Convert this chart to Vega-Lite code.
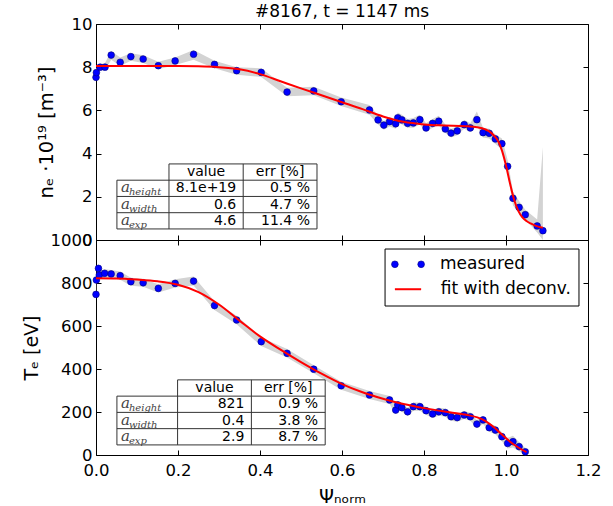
{
  "$schema": "https://vega.github.io/schema/vega-lite/v6.json",
  "padding": {"left": 21, "top": 2, "right": 5, "bottom": 0},
  "spacing": 0,
  "bounds": "flush",
  "config": {
    "font": "DejaVu Sans",
    "view": {"stroke": "black", "strokeWidth": 1},
    "axis": {"labelFont": "DejaVu Sans", "labelFontSize": 16.5, "labelColor": "black", "tickColor": "black", "domain": false, "grid": false, "tickSize": -5, "labelPadding": 9, "labelFlush": false, "labelOverlap": false, "titleFont": "DejaVu Sans", "titleFontSize": 17, "titleFontWeight": "normal", "titleColor": "black"},
    "text": {"font": "DejaVu Sans", "color": "black"}
  },
  "datasets": {
    "ne": [
      {"psi": 0.000, "ne": 7.53, "lo": 7.35, "hi": 7.75},
      {"psi": 0.001, "ne": 7.75, "lo": 7.55, "hi": 7.95},
      {"psi": 0.010, "ne": 8.00, "lo": 7.85, "hi": 8.15},
      {"psi": 0.022, "ne": 8.00, "lo": 7.85, "hi": 8.2},
      {"psi": 0.037, "ne": 8.56, "lo": 8.35, "hi": 8.75},
      {"psi": 0.059, "ne": 8.23, "lo": 8.05, "hi": 8.45},
      {"psi": 0.085, "ne": 8.49, "lo": 8.3, "hi": 8.65},
      {"psi": 0.115, "ne": 8.38, "lo": 8.2, "hi": 8.55},
      {"psi": 0.152, "ne": 8.07, "lo": 7.9, "hi": 8.25},
      {"psi": 0.193, "ne": 8.29, "lo": 8.1, "hi": 8.45},
      {"psi": 0.238, "ne": 8.60, "lo": 8.35, "hi": 8.8},
      {"psi": 0.289, "ne": 8.13, "lo": 7.95, "hi": 8.3},
      {"psi": 0.343, "ne": 7.84, "lo": 7.65, "hi": 8.0},
      {"psi": 0.403, "ne": 7.76, "lo": 7.55, "hi": 7.95},
      {"psi": 0.466, "ne": 6.85, "lo": 6.65, "hi": 7.05},
      {"psi": 0.531, "ne": 6.90, "lo": 6.7, "hi": 7.1},
      {"psi": 0.598, "ne": 6.40, "lo": 6.2, "hi": 6.6},
      {"psi": 0.667, "ne": 6.02, "lo": 5.8, "hi": 6.25},
      {"psi": 0.688, "ne": 5.56, "lo": 5.35, "hi": 5.75},
      {"psi": 0.702, "ne": 5.32, "lo": 5.1, "hi": 5.5},
      {"psi": 0.716, "ne": 5.48, "lo": 5.25, "hi": 5.7},
      {"psi": 0.731, "ne": 5.38, "lo": 5.15, "hi": 5.6},
      {"psi": 0.736, "ne": 5.66, "lo": 5.45, "hi": 5.9},
      {"psi": 0.746, "ne": 5.56, "lo": 5.35, "hi": 5.8},
      {"psi": 0.760, "ne": 5.40, "lo": 5.2, "hi": 5.6},
      {"psi": 0.774, "ne": 5.42, "lo": 5.2, "hi": 5.65},
      {"psi": 0.790, "ne": 5.57, "lo": 5.35, "hi": 5.8},
      {"psi": 0.805, "ne": 5.19, "lo": 5.0, "hi": 5.4},
      {"psi": 0.821, "ne": 5.40, "lo": 5.2, "hi": 5.6},
      {"psi": 0.836, "ne": 5.50, "lo": 5.3, "hi": 5.75},
      {"psi": 0.852, "ne": 5.14, "lo": 4.95, "hi": 5.35},
      {"psi": 0.866, "ne": 4.95, "lo": 4.75, "hi": 5.15},
      {"psi": 0.881, "ne": 5.05, "lo": 4.85, "hi": 5.25},
      {"psi": 0.898, "ne": 5.34, "lo": 5.15, "hi": 5.55},
      {"psi": 0.913, "ne": 5.19, "lo": 5.0, "hi": 5.4},
      {"psi": 0.929, "ne": 5.57, "lo": 5.3, "hi": 5.95},
      {"psi": 0.944, "ne": 4.97, "lo": 4.75, "hi": 5.2},
      {"psi": 0.959, "ne": 4.94, "lo": 4.7, "hi": 5.15},
      {"psi": 0.974, "ne": 4.68, "lo": 4.45, "hi": 4.9},
      {"psi": 0.990, "ne": 4.46, "lo": 4.2, "hi": 4.7},
      {"psi": 1.004, "ne": 3.41, "lo": 3.1, "hi": 3.7},
      {"psi": 1.017, "ne": 1.93, "lo": 1.6, "hi": 2.25},
      {"psi": 1.032, "ne": 1.51, "lo": 1.25, "hi": 1.8},
      {"psi": 1.047, "ne": 1.17, "lo": 0.95, "hi": 1.4},
      {"psi": 1.076, "ne": 0.65, "lo": 0.35, "hi": 0.95},
      {"psi": 1.090, "ne": 0.43, "lo": 0.0, "hi": 4.3}
    ],
    "neFit": [
      {"psi": 0.00, "ne": 8.05}, {"psi": 0.05, "ne": 8.05}, {"psi": 0.10, "ne": 8.05}, {"psi": 0.15, "ne": 8.05},
      {"psi": 0.20, "ne": 8.05}, {"psi": 0.25, "ne": 8.04}, {"psi": 0.30, "ne": 8.00}, {"psi": 0.35, "ne": 7.90},
      {"psi": 0.40, "ne": 7.68}, {"psi": 0.45, "ne": 7.35}, {"psi": 0.50, "ne": 7.02}, {"psi": 0.55, "ne": 6.70},
      {"psi": 0.60, "ne": 6.38}, {"psi": 0.65, "ne": 6.06}, {"psi": 0.70, "ne": 5.72}, {"psi": 0.75, "ne": 5.47},
      {"psi": 0.80, "ne": 5.35}, {"psi": 0.85, "ne": 5.30}, {"psi": 0.90, "ne": 5.27}, {"psi": 0.93, "ne": 5.22},
      {"psi": 0.95, "ne": 5.12}, {"psi": 0.96, "ne": 5.02}, {"psi": 0.97, "ne": 4.85}, {"psi": 0.98, "ne": 4.60},
      {"psi": 0.99, "ne": 4.15}, {"psi": 1.00, "ne": 3.45}, {"psi": 1.01, "ne": 2.60}, {"psi": 1.02, "ne": 1.85},
      {"psi": 1.03, "ne": 1.35}, {"psi": 1.04, "ne": 1.05}, {"psi": 1.05, "ne": 0.88}, {"psi": 1.06, "ne": 0.77},
      {"psi": 1.07, "ne": 0.68}, {"psi": 1.09, "ne": 0.57}
    ],
    "te": [
      {"psi": 0.000, "te": 747, "lo": 725, "hi": 770},
      {"psi": 0.001, "te": 814, "lo": 795, "hi": 835},
      {"psi": 0.006, "te": 868, "lo": 850, "hi": 890},
      {"psi": 0.008, "te": 837, "lo": 818, "hi": 856},
      {"psi": 0.021, "te": 845, "lo": 826, "hi": 864},
      {"psi": 0.037, "te": 842, "lo": 823, "hi": 861},
      {"psi": 0.059, "te": 834, "lo": 815, "hi": 853},
      {"psi": 0.085, "te": 806, "lo": 787, "hi": 825},
      {"psi": 0.115, "te": 801, "lo": 782, "hi": 820},
      {"psi": 0.152, "te": 775, "lo": 756, "hi": 794},
      {"psi": 0.193, "te": 798, "lo": 779, "hi": 817},
      {"psi": 0.238, "te": 809, "lo": 788, "hi": 830},
      {"psi": 0.289, "te": 695, "lo": 675, "hi": 715},
      {"psi": 0.343, "te": 628, "lo": 608, "hi": 648},
      {"psi": 0.403, "te": 527, "lo": 507, "hi": 547},
      {"psi": 0.466, "te": 473, "lo": 453, "hi": 493},
      {"psi": 0.531, "te": 399, "lo": 380, "hi": 418},
      {"psi": 0.598, "te": 322, "lo": 303, "hi": 341},
      {"psi": 0.667, "te": 279, "lo": 260, "hi": 298},
      {"psi": 0.716, "te": 256, "lo": 237, "hi": 275},
      {"psi": 0.731, "te": 209, "lo": 190, "hi": 228},
      {"psi": 0.736, "te": 233, "lo": 214, "hi": 252},
      {"psi": 0.746, "te": 220, "lo": 201, "hi": 239},
      {"psi": 0.760, "te": 201, "lo": 182, "hi": 220},
      {"psi": 0.774, "te": 225, "lo": 206, "hi": 244},
      {"psi": 0.790, "te": 225, "lo": 206, "hi": 244},
      {"psi": 0.805, "te": 206, "lo": 187, "hi": 225},
      {"psi": 0.821, "te": 191, "lo": 172, "hi": 210},
      {"psi": 0.836, "te": 201, "lo": 182, "hi": 220},
      {"psi": 0.852, "te": 197, "lo": 178, "hi": 216},
      {"psi": 0.866, "te": 178, "lo": 159, "hi": 197},
      {"psi": 0.881, "te": 174, "lo": 155, "hi": 193},
      {"psi": 0.898, "te": 186, "lo": 167, "hi": 205},
      {"psi": 0.913, "te": 178, "lo": 159, "hi": 197},
      {"psi": 0.929, "te": 144, "lo": 125, "hi": 163},
      {"psi": 0.944, "te": 163, "lo": 144, "hi": 182},
      {"psi": 0.959, "te": 127, "lo": 108, "hi": 146},
      {"psi": 0.974, "te": 116, "lo": 96, "hi": 136},
      {"psi": 0.990, "te": 85, "lo": 64, "hi": 106},
      {"psi": 1.004, "te": 54, "lo": 30, "hi": 80},
      {"psi": 1.017, "te": 62, "lo": 35, "hi": 90},
      {"psi": 1.032, "te": 39, "lo": 18, "hi": 60},
      {"psi": 1.047, "te": 15, "lo": 0, "hi": 32}
    ],
    "teFit": [
      {"psi": 0.00, "te": 822}, {"psi": 0.05, "te": 821}, {"psi": 0.10, "te": 816}, {"psi": 0.15, "te": 808},
      {"psi": 0.20, "te": 792}, {"psi": 0.25, "te": 758}, {"psi": 0.30, "te": 700}, {"psi": 0.35, "te": 625},
      {"psi": 0.40, "te": 552}, {"psi": 0.45, "te": 490}, {"psi": 0.50, "te": 432}, {"psi": 0.55, "te": 378},
      {"psi": 0.60, "te": 330}, {"psi": 0.65, "te": 292}, {"psi": 0.70, "te": 262}, {"psi": 0.75, "te": 237},
      {"psi": 0.80, "te": 218}, {"psi": 0.85, "te": 202}, {"psi": 0.90, "te": 188}, {"psi": 0.93, "te": 175},
      {"psi": 0.95, "te": 158}, {"psi": 0.97, "te": 130}, {"psi": 0.99, "te": 95}, {"psi": 1.01, "te": 62},
      {"psi": 1.03, "te": 35}, {"psi": 1.05, "te": 13}
    ],
    "neTab": [
      {"row": 1, "sym": "a", "sub": "height", "value": "8.1e+19", "err": "0.5 %"},
      {"row": 2, "sym": "a", "sub": "width", "value": "0.6", "err": "4.7 %"},
      {"row": 3, "sym": "a", "sub": "exp", "value": "4.6", "err": "11.4 %"}
    ],
    "teTab": [
      {"row": 1, "sym": "a", "sub": "height", "value": "821", "err": "0.9 %"},
      {"row": 2, "sym": "a", "sub": "width", "value": "0.4", "err": "3.8 %"},
      {"row": 3, "sym": "a", "sub": "exp", "value": "2.9", "err": "8.7 %"}
    ]
  },
  "vconcat": [
    {
      "width": 492,
      "height": 216,
      "title": {"text": "#8167, t = 1147 ms", "fontSize": 17, "fontWeight": "normal", "font": "DejaVu Sans", "color": "black", "offset": -5, "frame": "group", "anchor": "middle"},
      "layer": [
        {
          "layer": [
            {
              "data": {"name": "ne"},
              "mark": {"type": "area", "color": "#d3d3d3", "opacity": 1},
              "encoding": {
                "x": {"field": "psi", "type": "quantitative", "scale": {"domain": [0, 1.2], "nice": false, "zero": false}, "axis": {"orient": "bottom", "values": [0, 0.2, 0.4, 0.6, 0.8, 1.0, 1.2], "labels": false, "title": null}},
                "y": {"field": "lo", "type": "quantitative", "scale": {"domain": [0, 10], "nice": false, "zero": false}, "axis": {"orient": "left", "values": [0, 2, 4, 6, 8, 10], "title": "nₑ  ·10¹⁹  [m⁻³]", "titleFontSize": 19.5, "titlePadding": 15}},
                "y2": {"field": "hi"}
              }
            },
            {
              "data": {"name": "ne"},
              "mark": {"type": "point", "filled": true, "size": 45, "color": "#0000ff", "stroke": "#00007f", "strokeWidth": 0.6, "opacity": 1},
              "encoding": {
                "x": {"field": "psi", "type": "quantitative", "axis": null},
                "y": {"field": "ne", "type": "quantitative", "axis": null}
              }
            },
            {
              "data": {"name": "neFit"},
              "mark": {"type": "line", "color": "#ff0000", "strokeWidth": 2, "interpolate": "monotone"},
              "encoding": {
                "x": {"field": "psi", "type": "quantitative", "axis": {"orient": "top", "values": [0, 0.2, 0.4, 0.6, 0.8, 1.0, 1.2], "labels": false, "title": null}},
                "y": {"field": "ne", "type": "quantitative", "axis": {"orient": "right", "values": [0, 2, 4, 6, 8, 10], "labels": false, "title": null}}
              }
            }
          ],
          "resolve": {"axis": {"x": "independent", "y": "independent"}}
        },
        {
          "data": {"name": "neTab"},
          "layer": [
            {"mark": {"type": "text", "align": "left", "font": "DejaVu Serif", "fontStyle": "italic", "fontSize": 15, "dx": 4, "dy": -1, "color": "#444"},
             "encoding": {"x": {"datum": 0.051, "type": "quantitative", "axis": null}, "y": {"field": "row", "type": "quantitative", "scale": {"domain": [-9.11, 4.18], "reverse": true, "nice": false, "zero": false}, "axis": null}, "text": {"field": "sym"}}},
            {"mark": {"type": "text", "align": "left", "font": "DejaVu Serif", "fontStyle": "italic", "fontSize": 10, "dx": 12, "dy": 4, "color": "#444"},
             "encoding": {"x": {"datum": 0.051, "type": "quantitative", "axis": null}, "y": {"field": "row", "type": "quantitative", "axis": null}, "text": {"field": "sub"}}},
            {"mark": {"type": "text", "align": "right", "fontSize": 14, "dx": -7},
             "encoding": {"x": {"datum": 0.359, "type": "quantitative", "axis": null}, "y": {"field": "row", "type": "quantitative", "axis": null}, "text": {"field": "value"}}},
            {"mark": {"type": "text", "align": "right", "fontSize": 14, "dx": -7},
             "encoding": {"x": {"datum": 0.539, "type": "quantitative", "axis": null}, "y": {"field": "row", "type": "quantitative", "axis": null}, "text": {"field": "err"}}},
            {"data": {"values": [{}]}, "mark": {"type": "text", "text": "value", "fontSize": 14, "align": "center"},
             "encoding": {"x": {"datum": 0.2685, "type": "quantitative", "axis": null}, "y": {"datum": 0, "type": "quantitative", "axis": null}}},
            {"data": {"values": [{}]}, "mark": {"type": "text", "text": "err [%]", "fontSize": 14, "align": "center"},
             "encoding": {"x": {"datum": 0.449, "type": "quantitative", "axis": null}, "y": {"datum": 0, "type": "quantitative", "axis": null}}},
            {"data": {"values": [{}]}, "mark": {"type": "rule", "color": "#333", "strokeWidth": 1},
             "encoding": {"x": {"datum": 0.178, "type": "quantitative", "axis": null}, "x2": {"datum": 0.539}, "y": {"datum": -0.5, "type": "quantitative", "axis": null}}},
            {"data": {"values": [{}]}, "mark": {"type": "rule", "color": "#333", "strokeWidth": 1},
             "encoding": {"x": {"datum": 0.051, "type": "quantitative", "axis": null}, "x2": {"datum": 0.539}, "y": {"datum": 0.5, "type": "quantitative", "axis": null}}},
            {"data": {"values": [{}]}, "mark": {"type": "rule", "color": "#333", "strokeWidth": 1},
             "encoding": {"x": {"datum": 0.051, "type": "quantitative", "axis": null}, "x2": {"datum": 0.539}, "y": {"datum": 1.5, "type": "quantitative", "axis": null}}},
            {"data": {"values": [{}]}, "mark": {"type": "rule", "color": "#333", "strokeWidth": 1},
             "encoding": {"x": {"datum": 0.051, "type": "quantitative", "axis": null}, "x2": {"datum": 0.539}, "y": {"datum": 2.5, "type": "quantitative", "axis": null}}},
            {"data": {"values": [{}]}, "mark": {"type": "rule", "color": "#333", "strokeWidth": 1},
             "encoding": {"x": {"datum": 0.051, "type": "quantitative", "axis": null}, "x2": {"datum": 0.539}, "y": {"datum": 3.5, "type": "quantitative", "axis": null}}},
            {"data": {"values": [{}]}, "mark": {"type": "rule", "color": "#333", "strokeWidth": 1},
             "encoding": {"x": {"datum": 0.051, "type": "quantitative", "axis": null}, "y": {"datum": 0.5, "type": "quantitative", "axis": null}, "y2": {"datum": 3.5}}},
            {"data": {"values": [{}]}, "mark": {"type": "rule", "color": "#333", "strokeWidth": 1},
             "encoding": {"x": {"datum": 0.178, "type": "quantitative", "axis": null}, "y": {"datum": -0.5, "type": "quantitative", "axis": null}, "y2": {"datum": 3.5}}},
            {"data": {"values": [{}]}, "mark": {"type": "rule", "color": "#333", "strokeWidth": 1},
             "encoding": {"x": {"datum": 0.359, "type": "quantitative", "axis": null}, "y": {"datum": -0.5, "type": "quantitative", "axis": null}, "y2": {"datum": 3.5}}},
            {"data": {"values": [{}]}, "mark": {"type": "rule", "color": "#333", "strokeWidth": 1},
             "encoding": {"x": {"datum": 0.539, "type": "quantitative", "axis": null}, "y": {"datum": -0.5, "type": "quantitative", "axis": null}, "y2": {"datum": 3.5}}}
          ]
        }
      ],
      "resolve": {"scale": {"y": "independent"}, "axis": {"x": "independent", "y": "independent"}}
    },
    {
      "width": 492,
      "height": 215,
      "layer": [
        {
          "layer": [
            {
              "data": {"name": "te"},
              "mark": {"type": "area", "color": "#d3d3d3", "opacity": 1},
              "encoding": {
                "x": {"field": "psi", "type": "quantitative", "scale": {"domain": [0, 1.2], "nice": false, "zero": false}, "axis": {"orient": "bottom", "values": [0, 0.2, 0.4, 0.6, 0.8, 1.0, 1.2], "format": ".1f", "labelPadding": 12, "title": "Ψₙₒᵣₘ", "titleFontSize": 19, "titlePadding": 9}},
                "y": {"field": "lo", "type": "quantitative", "scale": {"domain": [0, 1000], "nice": false, "zero": false}, "axis": {"orient": "left", "values": [0, 200, 400, 600, 800, 1000], "format": "d", "title": "Tₑ  [eV]", "titleFontSize": 19, "titlePadding": 9}},
                "y2": {"field": "hi"}
              }
            },
            {
              "data": {"name": "te"},
              "mark": {"type": "point", "filled": true, "size": 45, "color": "#0000ff", "stroke": "#00007f", "strokeWidth": 0.6, "opacity": 1},
              "encoding": {
                "x": {"field": "psi", "type": "quantitative", "axis": null},
                "y": {"field": "te", "type": "quantitative", "axis": null}
              }
            },
            {
              "data": {"name": "teFit"},
              "mark": {"type": "line", "color": "#ff0000", "strokeWidth": 2, "interpolate": "monotone"},
              "encoding": {
                "x": {"field": "psi", "type": "quantitative", "axis": {"orient": "top", "values": [0, 0.2, 0.4, 0.6, 0.8, 1.0, 1.2], "labels": false, "title": null}},
                "y": {"field": "te", "type": "quantitative", "axis": {"orient": "right", "values": [0, 200, 400, 600, 800, 1000], "labels": false, "title": null}}
              }
            },
            {
              "data": {"values": [{}]},
              "mark": {"type": "rect", "fill": "white", "stroke": "black", "strokeWidth": 1},
              "encoding": {"x": {"datum": 0.705, "type": "quantitative", "axis": null}, "x2": {"datum": 1.178}, "y": {"datum": 958, "type": "quantitative", "axis": null}, "y2": {"datum": 693}}
            },
            {
              "data": {"values": [{}]},
              "mark": {"type": "point", "filled": true, "size": 45, "color": "#0000ff", "stroke": "#00007f", "strokeWidth": 0.6, "opacity": 1},
              "encoding": {"x": {"datum": 0.729, "type": "quantitative", "axis": null}, "y": {"datum": 887, "type": "quantitative", "axis": null}}
            },
            {
              "data": {"values": [{}]},
              "mark": {"type": "point", "filled": true, "size": 45, "color": "#0000ff", "stroke": "#00007f", "strokeWidth": 0.6, "opacity": 1},
              "encoding": {"x": {"datum": 0.793, "type": "quantitative", "axis": null}, "y": {"datum": 887, "type": "quantitative", "axis": null}}
            },
            {
              "data": {"values": [{}]},
              "mark": {"type": "rule", "color": "#ff0000", "strokeWidth": 2},
              "encoding": {"x": {"datum": 0.729, "type": "quantitative", "axis": null}, "x2": {"datum": 0.793}, "y": {"datum": 771, "type": "quantitative", "axis": null}}
            },
            {
              "data": {"values": [{}]},
              "mark": {"type": "text", "text": "measured", "fontSize": 17, "align": "left", "baseline": "middle"},
              "encoding": {"x": {"datum": 0.839, "type": "quantitative", "axis": null}, "y": {"datum": 887, "type": "quantitative", "axis": null}}
            },
            {
              "data": {"values": [{}]},
              "mark": {"type": "text", "text": "fit with deconv.", "fontSize": 17, "align": "left", "baseline": "middle"},
              "encoding": {"x": {"datum": 0.841, "type": "quantitative", "axis": null}, "y": {"datum": 771, "type": "quantitative", "axis": null}}
            }
          ],
          "resolve": {"axis": {"x": "independent", "y": "independent"}}
        },
        {
          "data": {"name": "teTab"},
          "layer": [
            {"mark": {"type": "text", "align": "left", "font": "DejaVu Serif", "fontStyle": "italic", "fontSize": 15, "dx": 4, "dy": -1, "color": "#444"},
             "encoding": {"x": {"datum": 0.051, "type": "quantitative", "axis": null}, "y": {"field": "row", "type": "quantitative", "scale": {"domain": [-9.1, 4.12], "reverse": true, "nice": false, "zero": false}, "axis": null}, "text": {"field": "sym"}}},
            {"mark": {"type": "text", "align": "left", "font": "DejaVu Serif", "fontStyle": "italic", "fontSize": 10, "dx": 12, "dy": 4, "color": "#444"},
             "encoding": {"x": {"datum": 0.051, "type": "quantitative", "axis": null}, "y": {"field": "row", "type": "quantitative", "axis": null}, "text": {"field": "sub"}}},
            {"mark": {"type": "text", "align": "right", "fontSize": 14, "dx": -7},
             "encoding": {"x": {"datum": 0.379, "type": "quantitative", "axis": null}, "y": {"field": "row", "type": "quantitative", "axis": null}, "text": {"field": "value"}}},
            {"mark": {"type": "text", "align": "right", "fontSize": 14, "dx": -7},
             "encoding": {"x": {"datum": 0.559, "type": "quantitative", "axis": null}, "y": {"field": "row", "type": "quantitative", "axis": null}, "text": {"field": "err"}}},
            {"data": {"values": [{}]}, "mark": {"type": "text", "text": "value", "fontSize": 14, "align": "center"},
             "encoding": {"x": {"datum": 0.289, "type": "quantitative", "axis": null}, "y": {"datum": 0, "type": "quantitative", "axis": null}}},
            {"data": {"values": [{}]}, "mark": {"type": "text", "text": "err [%]", "fontSize": 14, "align": "center"},
             "encoding": {"x": {"datum": 0.469, "type": "quantitative", "axis": null}, "y": {"datum": 0, "type": "quantitative", "axis": null}}},
            {"data": {"values": [{}]}, "mark": {"type": "rule", "color": "#333", "strokeWidth": 1},
             "encoding": {"x": {"datum": 0.199, "type": "quantitative", "axis": null}, "x2": {"datum": 0.559}, "y": {"datum": -0.5, "type": "quantitative", "axis": null}}},
            {"data": {"values": [{}]}, "mark": {"type": "rule", "color": "#333", "strokeWidth": 1},
             "encoding": {"x": {"datum": 0.051, "type": "quantitative", "axis": null}, "x2": {"datum": 0.559}, "y": {"datum": 0.5, "type": "quantitative", "axis": null}}},
            {"data": {"values": [{}]}, "mark": {"type": "rule", "color": "#333", "strokeWidth": 1},
             "encoding": {"x": {"datum": 0.051, "type": "quantitative", "axis": null}, "x2": {"datum": 0.559}, "y": {"datum": 1.5, "type": "quantitative", "axis": null}}},
            {"data": {"values": [{}]}, "mark": {"type": "rule", "color": "#333", "strokeWidth": 1},
             "encoding": {"x": {"datum": 0.051, "type": "quantitative", "axis": null}, "x2": {"datum": 0.559}, "y": {"datum": 2.5, "type": "quantitative", "axis": null}}},
            {"data": {"values": [{}]}, "mark": {"type": "rule", "color": "#333", "strokeWidth": 1},
             "encoding": {"x": {"datum": 0.051, "type": "quantitative", "axis": null}, "x2": {"datum": 0.559}, "y": {"datum": 3.5, "type": "quantitative", "axis": null}}},
            {"data": {"values": [{}]}, "mark": {"type": "rule", "color": "#333", "strokeWidth": 1},
             "encoding": {"x": {"datum": 0.051, "type": "quantitative", "axis": null}, "y": {"datum": 0.5, "type": "quantitative", "axis": null}, "y2": {"datum": 3.5}}},
            {"data": {"values": [{}]}, "mark": {"type": "rule", "color": "#333", "strokeWidth": 1},
             "encoding": {"x": {"datum": 0.199, "type": "quantitative", "axis": null}, "y": {"datum": -0.5, "type": "quantitative", "axis": null}, "y2": {"datum": 3.5}}},
            {"data": {"values": [{}]}, "mark": {"type": "rule", "color": "#333", "strokeWidth": 1},
             "encoding": {"x": {"datum": 0.379, "type": "quantitative", "axis": null}, "y": {"datum": -0.5, "type": "quantitative", "axis": null}, "y2": {"datum": 3.5}}},
            {"data": {"values": [{}]}, "mark": {"type": "rule", "color": "#333", "strokeWidth": 1},
             "encoding": {"x": {"datum": 0.559, "type": "quantitative", "axis": null}, "y": {"datum": -0.5, "type": "quantitative", "axis": null}, "y2": {"datum": 3.5}}}
          ]
        }
      ],
      "resolve": {"scale": {"y": "independent"}, "axis": {"x": "independent", "y": "independent"}}
    }
  ],
  "resolve": {"scale": {"x": "independent", "y": "independent"}, "axis": {"x": "independent", "y": "independent"}}
}
